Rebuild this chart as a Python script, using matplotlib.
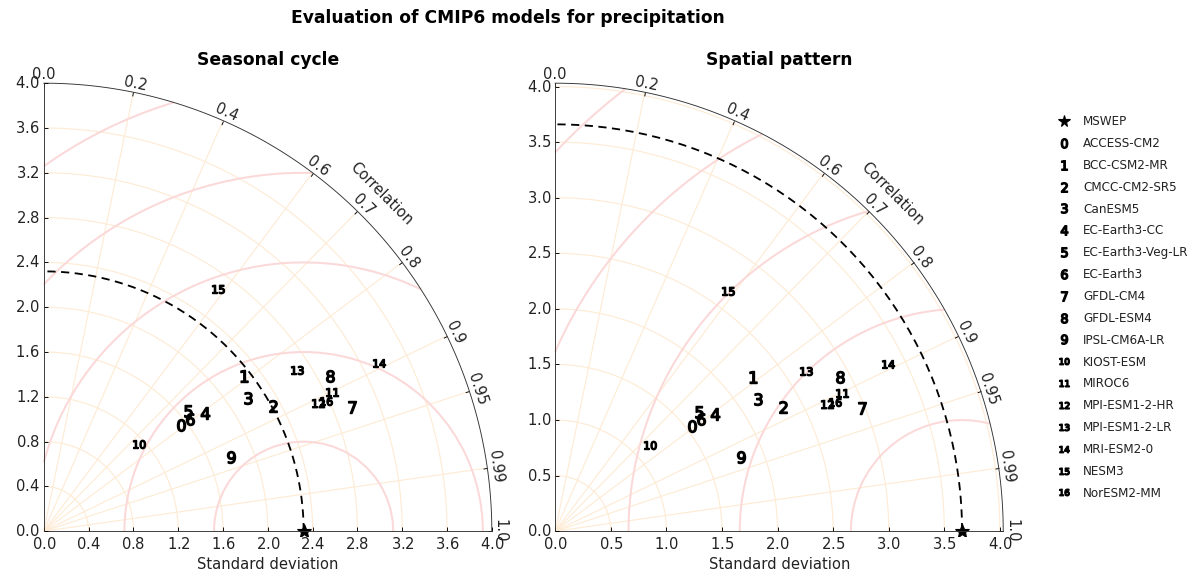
#!/usr/bin/env python3
"""Taylor diagrams comparing CMIP6 precipitation with MSWEP."""

import matplotlib

matplotlib.use("Agg")
import matplotlib.pyplot as plt
import mpl_toolkits.axisartist.floating_axes as floating_axes
import mpl_toolkits.axisartist.grid_finder as grid_finder
import numpy as np
from matplotlib.projections import PolarAxes


MODELS = [
    "ACCESS-CM2", "BCC-CSM2-MR", "CMCC-CM2-SR5", "CanESM5", "EC-Earth3-CC",
    "EC-Earth3-Veg-LR", "EC-Earth3", "GFDL-CM4", "GFDL-ESM4", "IPSL-CM6A-LR",
    "KIOST-ESM", "MIROC6", "MPI-ESM1-2-HR", "MPI-ESM1-2-LR", "MRI-ESM2-0",
    "NESM3", "NorESM2-MM",
]
REFERENCE_NAME = "MSWEP"
CORR_TICKS = [0.0, 0.2, 0.4, 0.6, 0.7, 0.8, 0.9, 0.95, 0.99, 1.0]

SEASONAL_REF_STD = 2.32
SEASONAL_STD = [1.55, 2.26, 2.33, 2.18, 1.78, 1.68, 1.65, 2.97, 2.91, 1.80,
                1.15, 2.86, 2.70, 2.68, 3.35, 2.66, 2.77]
SEASONAL_CORR = [0.793, 0.789, 0.878, 0.837, 0.807, 0.768, 0.793, 0.928, 0.879, 0.929,
                 0.739, 0.901, 0.906, 0.843, 0.894, 0.584, 0.908]

SPATIAL_REF_STD = 3.66
SPATIAL_STD = [1.55, 2.26, 2.33, 2.18, 1.78, 1.68, 1.65, 2.97, 2.91, 1.80,
               1.15, 2.86, 2.70, 2.68, 3.35, 2.66, 2.77]
SPATIAL_CORR = [0.793, 0.789, 0.878, 0.837, 0.807, 0.768, 0.793, 0.928, 0.879, 0.929,
                0.739, 0.901, 0.906, 0.843, 0.894, 0.584, 0.908]

GRID_COLOR = "#feebd4"
CONTOUR_COLOR = "#fbd9d9"
DPI = 82

plt.rcParams["font.size"] = 13


def taylor_diagram(fig, rect, ref_std, std_max, title):
    """Quarter-circle Taylor diagram built on axisartist floating axes."""
    transform = PolarAxes.PolarTransform(apply_theta_transforms=False)
    tlocs = np.arccos(CORR_TICKS)
    helper = floating_axes.GridHelperCurveLinear(
        transform,
        extremes=(0, np.pi / 2, 0, std_max),
        grid_locator1=grid_finder.FixedLocator(tlocs),
        tick_formatter1=grid_finder.DictFormatter(dict(zip(tlocs, map(str, CORR_TICKS)))),
    )
    ax = fig.add_axes(rect, axes_class=floating_axes.FloatingAxes, grid_helper=helper)

    ax.axis["top"].set_axis_direction("bottom")
    ax.axis["top"].toggle(ticklabels=True, label=True)
    ax.axis["top"].major_ticklabels.set_axis_direction("top")
    ax.axis["top"].label.set_axis_direction("top")
    ax.axis["top"].label.set_text("Correlation")

    ax.axis["left"].set_axis_direction("bottom")
    ax.axis["left"].label.set_text("Standard deviation")

    ax.axis["right"].set_axis_direction("top")
    ax.axis["right"].toggle(ticklabels=True)
    ax.axis["right"].major_ticklabels.set_axis_direction("left")
    ax.axis["bottom"].set_visible(False)

    for side in ("top", "left", "right"):
        ax.axis[side].major_ticklabels.set_color("#222222")
        ax.axis[side].label.set_color("#222222")
        ax.axis[side].line.set_color("#333333")

    ax.grid(True, color=GRID_COLOR, linewidth=1.0)
    ax.set_title(title, fontsize=15, fontweight="bold", pad=12)

    aux = ax.get_aux_axes(transform)

    # RMS difference contours around the reference point
    rs, ts = np.meshgrid(np.linspace(0, std_max), np.linspace(0, np.pi / 2))
    rms = np.sqrt(ref_std ** 2 + rs ** 2 - 2 * ref_std * rs * np.cos(ts))
    aux.contour(ts, rs, rms, 5, colors=CONTOUR_COLOR, linewidths=1.8)

    star, = aux.plot([0], [ref_std], "k*", ls="", ms=13, label=REFERENCE_NAME)
    t = np.linspace(0, np.pi / 2)
    aux.plot(t, np.zeros_like(t) + ref_std, "k--", lw=1.6, dashes=(4.5, 3))
    return ax, aux, star


def add_samples(aux, std, corr):
    points = []
    for i, (s, r) in enumerate(zip(std, corr)):
        line, = aux.plot(np.arccos(r), s, marker=f"${i}$", ms=10.5, mew=1.3, ls="",
                         mfc="k", mec="k", label=MODELS[i])
        points.append(line)
    return points


def main():
    fig = plt.figure(figsize=(1195 / DPI, 580 / DPI), dpi=DPI)
    size_w, size_h = 457 / 1195, 457 / 580

    ax1, aux1, star = taylor_diagram(
        fig, [39.3 / 1195, 44.3 / 580, size_w, size_h], SEASONAL_REF_STD, 4.0, "Seasonal cycle")
    samples = add_samples(aux1, SEASONAL_STD, SEASONAL_CORR)

    ax2, aux2, _ = taylor_diagram(
        fig, [550.7 / 1195, 44.3 / 580, size_w, size_h], SPATIAL_REF_STD, 4.03, "Spatial pattern")
    add_samples(aux2, SPATIAL_STD, SPATIAL_CORR)

    handles = [star] + samples
    fig.legend(handles, [h.get_label() for h in handles], numpoints=1, loc="center right",
               bbox_to_anchor=(1.0035, 0.47), frameon=False, fontsize=10.5, labelspacing=0.74,
               markerscale=0.8, handlelength=1.2, handletextpad=1.0, labelcolor="#222222")
    fig.suptitle("Evaluation of CMIP6 models for precipitation", x=0.425, y=0.985,
                 fontsize=15, fontweight="bold")
    fig.savefig("out.png", dpi=DPI)


if __name__ == "__main__":
    main()
